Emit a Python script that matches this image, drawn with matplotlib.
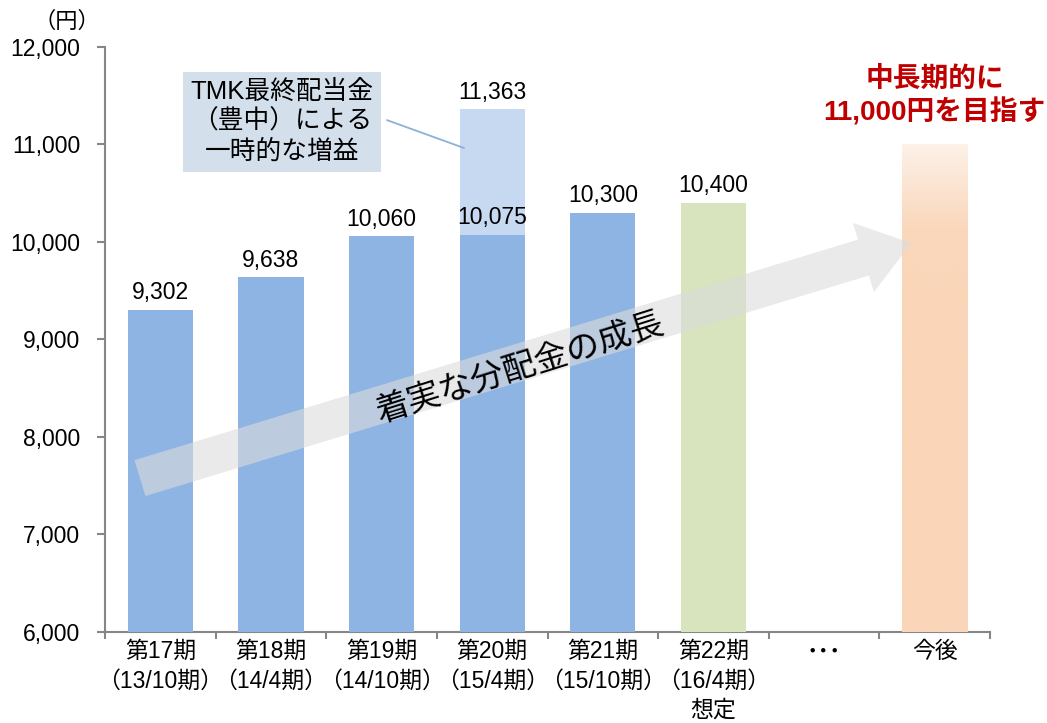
import numpy as np
import matplotlib.pyplot as plt
from matplotlib.colors import LinearSegmentedColormap

plt.rcParams['font.family'] = ['Liberation Sans', 'Noto Sans CJK JP']

# data
categories = ['第17期\n（13/10期）', '第18期\n（14/4期）', '第19期\n（14/10期）',
              '第20期\n（15/4期）', '第21期\n（15/10期）', '第22期\n（16/4期）\n想定',
              '･･･', '今後']
results = [9302, 9638, 10060, 10075, 10300]   # 第17期 - 第21期
one_off_total = 11363                          # 第20期 incl. TMK final dividend
forecast = 10400                               # 第22期 想定
target = 11000                                 # 今後
yticks = [6000, 7000, 8000, 9000, 10000, 11000, 12000]

blue = '#8EB4E3'
light_blue = '#C6D9F1'
green = '#D7E4BD'
axis_gray = '#868686'

fig, ax = plt.subplots(figsize=(10.47, 7.23), dpi=100)
fig.subplots_adjust(left=0.1003, right=0.9456, bottom=0.1259, top=0.935)

x = np.arange(len(categories))
w = 0.59

ax.bar(x[3], one_off_total, w, color=light_blue, zorder=2)
ax.bar(x[:5], results, w, color=blue, zorder=3)
ax.bar(x[5], forecast, w, color=green, zorder=3)

# gradient bar for the target
tgt = ax.bar(x[7], target, w, color='none', zorder=3)[0]
cmap = LinearSegmentedColormap.from_list('peach', ['#FDF1E8', '#FAD8BC', '#FAD5B8'])
grad = np.linspace(0, 1, 200).reshape(-1, 1)
grad = np.clip(grad * 3.0, 0, 1)
im = ax.imshow(grad, cmap=cmap, aspect='auto', origin='upper',
               extent=[x[7] - w / 2, x[7] + w / 2, yticks[0], target], zorder=3)
im.set_clip_path(tgt)

ax.set_xlim(-0.5, len(categories) - 0.5)
ax.set_ylim(yticks[0], yticks[-1])

# value labels
lbl = dict(ha='center', va='bottom', fontsize=16.5, zorder=5,
           textcoords='offset points')
for xi, v in zip(x[:5], results):
    ax.annotate(f'{v:,}', (xi, v), xytext=(0, 4), **lbl)
ax.annotate(f'{one_off_total:,}', (x[3], one_off_total), xytext=(0, 4), **lbl)
ax.annotate(f'{forecast:,}', (x[5], forecast), xytext=(0, 4), **lbl)

# axes styling
ax.spines[['top', 'right']].set_visible(False)
for s in ('left', 'bottom'):
    ax.spines[s].set_color(axis_gray)
    ax.spines[s].set_linewidth(1.5)
ax.set_yticks(yticks)
ax.set_yticklabels([f'{t:,}' for t in yticks])
ax.tick_params(axis='y', length=6, width=1.5, color=axis_gray, pad=12,
               labelsize=16.5)
ax.set_xticks(x)
ax.set_xticklabels(categories, linespacing=1.35)
ax.set_xticks(np.arange(-0.5, len(categories), 1), minor=True)
ax.tick_params(axis='x', which='major', length=0, pad=6, labelsize=16.5)
ax.tick_params(axis='x', which='minor', length=5, width=1.5, color=axis_gray)
for t in ax.get_xticklabels():
    if t.get_text() == '･･･':
        t.set_fontweight('bold')

ax.text(-0.043, 1.043, '（円）', transform=ax.transAxes, ha='center',
        va='center', fontsize=16)

# growth arrow
ax.annotate('', xy=(0.911, 0.665), xytext=(0.0395, 0.263),
            xycoords='axes fraction', textcoords='axes fraction',
            arrowprops=dict(arrowstyle='simple,head_length=3.6,head_width=5.2,tail_width=2.7',
                            mutation_scale=10, fc='#DCDCDC', ec='none',
                            alpha=0.6, shrinkA=0, shrinkB=0),
            zorder=4)
ax.text(0.47, 0.45, '着実な分配金の成長', transform=ax.transAxes,
        ha='center', va='center', fontsize=24, rotation=17.5, zorder=5)

# callout for the one-off gain
ax.annotate('', xy=(x[3] - w / 2 + 0.04, 10964), xytext=(0.3186, 0.875),
            textcoords='axes fraction',
            arrowprops=dict(arrowstyle='-', color='#8DB0DA', lw=1.3,
                            shrinkA=0, shrinkB=0), zorder=4)
ax.text(0.2, 0.872, 'TMK最終配当金\n（豊中）による\n一時的な増益',
        transform=ax.transAxes, ha='center', va='center', fontsize=18.5,
        linespacing=1.3, zorder=5,
        bbox=dict(boxstyle='square,pad=0.3', fc='#D4DFEC', ec='none'))

# target message
ax.annotate('中長期的に\n11,000円を目指す', (x[7], target), xytext=(0, 13),
            textcoords='offset points', ha='center', va='bottom',
            fontsize=20, fontweight='bold', color='#C00000', linespacing=1.25,
            zorder=5)

fig.savefig('out.png', dpi=100)
